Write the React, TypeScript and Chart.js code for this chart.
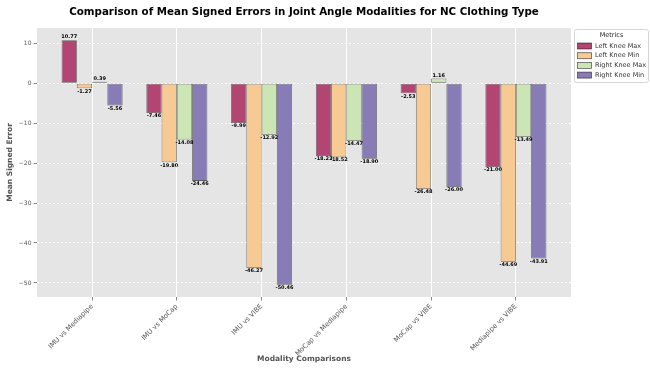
import React, { useEffect, useRef } from "react";
import { Chart, registerables } from "chart.js";
Chart.register(...registerables);

const categories = [
  "IMU vs Mediapipe",
  "IMU vs MoCap",
  "IMU vs VIBE",
  "MoCap vs Mediapipe",
  "MoCap vs VIBE",
  "Mediapipe vs VIBE",
];
const seriesNames = ["Left Knee Max", "Left Knee Min", "Right Knee Max", "Right Knee Min"];
const leftKneeMax = [10.77, -7.46, -9.99, -18.23, -2.53, -21.0];
const leftKneeMin = [-1.27, -19.8, -46.27, -18.52, -26.48, -44.69];
const rightKneeMax = [0.39, -14.08, -12.92, -14.47, 1.16, -13.49];
const rightKneeMin = [-5.56, -24.46, -50.46, -18.9, -26.0, -43.91];
const yTickValues = [10, 0, -10, -20, -30, -40, -50];
const seriesColors = ["#B34573", "#F6CA92", "#CBE5B5", "#877CB6"];

const TITLE = "Comparison of Mean Signed Errors in Joint Angle Modalities for NC Clothing Type";
const FONT = "'DejaVu Sans', 'Liberation Sans', sans-serif";
const EDGE = "rgba(0,0,0,0.6)";

const plotBg = {
  id: "plotBg",
  beforeDraw(chart: any) {
    const { ctx, chartArea: a } = chart;
    ctx.save();
    ctx.fillStyle = "#E5E5E5";
    ctx.fillRect(a.left, a.top, a.right - a.left, a.bottom - a.top);
    ctx.restore();
  },
};

const valueLabels = {
  id: "valueLabels",
  afterDatasetsDraw(chart: any) {
    const { ctx } = chart;
    ctx.save();
    ctx.font = `bold 5px ${FONT}`;
    ctx.fillStyle = "#000";
    ctx.textAlign = "center";
    chart.data.datasets.forEach((ds: any, di: number) => {
      const meta = chart.getDatasetMeta(di);
      meta.data.forEach((bar: any, i: number) => {
        const v = ds.data[i].y;
        const txt = v.toFixed(2);
        if (v >= 0) {
          ctx.textBaseline = "bottom";
          ctx.fillText(txt, bar.x, bar.y - 0.5);
        } else {
          ctx.textBaseline = "top";
          ctx.fillText(txt, bar.x, bar.y + 0.5);
        }
      });
    });
    ctx.restore();
  },
};

const customLegend = {
  id: "customLegend",
  afterDraw(chart: any) {
    const { ctx } = chart;
    const x = 574, y = 29, w = 74, h = 53;
    ctx.save();
    ctx.fillStyle = "rgba(255,255,255,0.9)";
    ctx.strokeStyle = "#cccccc";
    ctx.lineWidth = 0.8;
    ctx.beginPath();
    ctx.roundRect(x + 0.5, y + 0.5, w, h, 2);
    ctx.fill();
    ctx.stroke();
    ctx.fillStyle = "#222";
    ctx.font = `6.5px ${FONT}`;
    ctx.textAlign = "center";
    ctx.textBaseline = "middle";
    ctx.fillText("Metrics", x + w / 2 + 0.5, y + 6.5);
    ctx.textAlign = "left";
    chart.data.datasets.forEach((ds: any, i: number) => {
      const cy = y + 17 + i * 9.7;
      ctx.fillStyle = ds.backgroundColor;
      ctx.fillRect(x + 3.5, cy - 3, 14, 6);
      ctx.strokeStyle = EDGE;
      ctx.lineWidth = 0.8;
      ctx.strokeRect(x + 3.5, cy - 3, 14, 6);
      ctx.fillStyle = "#333";
      ctx.fillText(ds.label, x + 21, cy);
    });
    ctx.restore();
  },
};

export default function App() {
  const ref = useRef<HTMLCanvasElement>(null);
  useEffect(() => {
    if (!ref.current) return;
    const series = [leftKneeMax, leftKneeMin, rightKneeMax, rightKneeMin];
    const chart = new Chart(ref.current, {
      type: "bar",
      data: {
        datasets: series.map((vals, si) => ({
          label: seriesNames[si],
          data: vals.map((v, i) => ({ x: i, y: v })),
          backgroundColor: seriesColors[si],
          borderColor: EDGE,
          borderWidth: 0.8,
          borderSkipped: false,
          categoryPercentage: 0.72,
          barPercentage: 1,
        })),
      },
      options: {
        responsive: false,
        devicePixelRatio: 1,
        animation: false,
        layout: { padding: { left: 0, right: 79, top: 0, bottom: 0 } },
        font: { family: FONT },
        plugins: {
          legend: { display: false },
          tooltip: { enabled: false },
          title: {
            display: true,
            text: TITLE,
            fullSize: false,
            color: "#000",
            font: { family: FONT, size: 10.3, weight: "bold" },
            padding: { top: 6, bottom: 9.6 },
          },
        },
        scales: {
          x: {
            type: "linear",
            min: -0.65,
            max: 5.65,
            offset: false,
            afterFit: (s: any) => {
              s.height = 75;
            },
            afterBuildTicks: (s: any) => {
              s.ticks = categories.map((_, i) => ({ value: i }));
            },
            ticks: {
              autoSkip: false,
              minRotation: 45,
              maxRotation: 45,
              color: "#555",
              font: { family: FONT, size: 6.8 },
              padding: 2,
              callback: (v: any) => categories[v] ?? "",
            },
            grid: {
              offset: false,
              color: "#ffffff",
              lineWidth: 1,
              tickColor: "#666",
              tickLength: 3.5,
              tickWidth: 0.8,
            },
            border: { display: false },
            title: {
              display: true,
              text: "Modality Comparisons",
              color: "#555",
              font: { family: FONT, size: 7.5, weight: "bold" },
              padding: { top: 4, bottom: 8.5 },
            },
          },
          y: {
            type: "linear",
            min: -53.52,
            max: 13.83,
            afterFit: (s: any) => {
              s.width = 37;
            },
            afterBuildTicks: (s: any) => {
              s.ticks = yTickValues.map((v) => ({ value: v }));
            },
            ticks: {
              color: "#555",
              font: { family: FONT, size: 6 },
              padding: 2,
              callback: (v: any) => String(v).replace("-", "\u2212"),
            },
            grid: {
              color: "rgba(255,255,255,0.95)",
              lineWidth: 1,
              tickColor: "#666",
              tickLength: 3.5,
              tickWidth: 0.8,
              tickBorderDash: [],
            },
            border: { display: false, dash: [2, 2] },
            title: {
              display: true,
              text: "Mean Signed Error",
              color: "#555",
              font: { family: FONT, size: 7.5, weight: "bold" },
              padding: { top: 6, bottom: 0 },
            },
          },
        },
      },
      plugins: [plotBg, valueLabels, customLegend],
    } as any);
    return () => chart.destroy();
  }, []);
  return (
    <div style={{ position: "fixed", left: 0, top: 0, width: 650, height: 372, background: "#fff" }}>
      <canvas ref={ref} width={650} height={372} />
    </div>
  );
}
